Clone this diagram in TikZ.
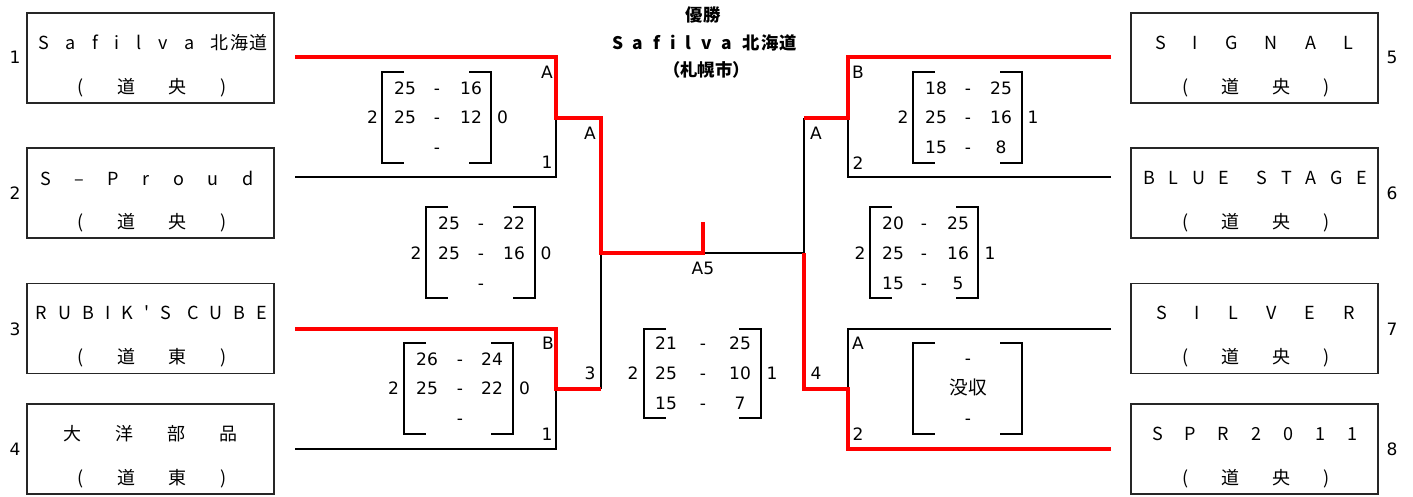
\documentclass[tikz,border=0pt]{standalone}
\usepackage{fontspec}
\setmainfont{DejaVu Sans}
\newfontfamily\jp{Noto Sans CJK JP}
\usetikzlibrary{calc}
\newlength\px \setlength\px{0.75pt}
\newcommand\spread[2]{\makebox[#1\px][s]{#2}}
\newcommand\brackets[4]{%
  \draw[brk] (#1+22,#3) -- (#1,#3) -- (#1,#4) -- (#1+22,#4);
  \draw[brk] (#2-22,#3) -- (#2,#3) -- (#2,#4) -- (#2-22,#4);}
\newcommand\srow[6]{%
  \node[lbl] at (#1,#4) {#5};
  \node[lbl] at (#2,#4) {-};
  \node[lbl] at (#3,#4) {#6};}
\tikzset{
  teamb/.style={draw=black!85, line width=1.1pt, minimum width=185.25pt, minimum height=67.5pt, inner sep=0pt},
  teamt/.style={font=\jp\fontsize{13.5}{15}\selectfont, inner sep=0pt},
  lbl/.style={font=\fontsize{12.8}{15}\selectfont, inner sep=0pt, text height=9.3pt, text depth=0pt},
  ttl/.style={font=\jp\bfseries\fontsize{13}{15}\selectfont, inner sep=0pt},
  wline/.style={red, line width=2.6pt},
  lline/.style={black, line width=1.5pt},
  brk/.style={black, line width=1.5pt},
}
\begin{document}
\begin{tikzpicture}[x=0.75pt,y=-0.75pt]
\useasboundingbox (0,0) rectangle (1413,496);
% team boxes left
\node[teamb] (b1) at (150.5,58) {};
\node[teamb] (b2) at (150.5,193) {};
\node[teamb] (b3) at (150.5,328.5) {};
\node[teamb] (b4) at (150.5,449) {};
% team boxes right
\node[teamb] (b5) at (1254.5,58) {};
\node[teamb] (b6) at (1254.5,193) {};
\node[teamb] (b7) at (1254.5,328.5) {};
\node[teamb] (b8) at (1254.5,449) {};
% names
\node[teamt] (n1) at (153,43) {\spread{229}{S\hfill a\hfill f\hfill i\hfill l\hfill v\hfill a\hfill 北\hspace{1pt}海\hspace{1pt}道}};
\node[teamt] (n2) at (147,178) {\spread{213}{S\hfill –\hfill P\hfill r\hfill o\hfill u\hfill d}};
\node[teamt] (n3) at (151.5,313) {\spread{231}{R\hfill U\hfill B\hfill I\hfill K\hfill \symbol{39}\hfill S\hfill\hspace{4pt}C\hfill U\hfill B\hfill E}};
\node[teamt] (n4) at (150.5,434) {\spread{175}{大\hfill 洋\hfill 部\hfill 品}};
\node[teamt] (n5) at (1254,43) {\spread{198}{S\hfill I\hfill G\hfill N\hfill A\hfill L}};
\node[teamt] (n6) at (1255,178) {\spread{224}{B\hfill L\hfill U\hfill E\hfill\hfill S\hfill T\hfill A\hfill G\hfill E}};
\node[teamt] (n7) at (1255.5,313) {\spread{199}{S\hfill I\hfill L\hfill V\hfill E\hfill R}};
\node[teamt] (n8) at (1254.5,434) {\spread{205}{S\hfill P\hfill R\hfill 2\hfill 0\hfill 1\hfill 1}};
% areas
\node[teamt] (r1) at (152,88) {\spread{150}{(\hfill 道\hfill 央\hfill )}};
\node[teamt] (r2) at (152,223) {\spread{150}{(\hfill 道\hfill 央\hfill )}};
\node[teamt] (r3) at (152,358) {\spread{150}{(\hfill 道\hfill 東\hfill )}};
\node[teamt] (r4) at (152,479) {\spread{150}{(\hfill 道\hfill 東\hfill )}};
\node[teamt] (r5) at (1256,88) {\spread{148}{(\hfill 道\hfill 央\hfill )}};
\node[teamt] (r6) at (1256,223) {\spread{148}{(\hfill 道\hfill 央\hfill )}};
\node[teamt] (r7) at (1256,358) {\spread{148}{(\hfill 道\hfill 央\hfill )}};
\node[teamt] (r8) at (1256,479) {\spread{148}{(\hfill 道\hfill 央\hfill )}};
% seed numbers
\node[lbl] (k1) at (15,57) {1};
\node[lbl] (k2) at (15,193) {2};
\node[lbl] (k3) at (15,329) {3};
\node[lbl] (k4) at (15,449) {4};
\node[lbl] (k5) at (1392,57) {5};
\node[lbl] (k6) at (1392,193) {6};
\node[lbl] (k7) at (1392,329) {7};
\node[lbl] (k8) at (1392,449) {8};
% title
\node[ttl] (tt1) at (703,15) {優勝};
\node[ttl] (tt2) at (704.5,43) {\spread{185}{S\hfill a\hfill f\hfill i\hfill l\hfill v\hfill a\hfill 北\hspace{1pt}海\hspace{1pt}道}};
\node[ttl] (tt3) at (703,70) {\spread{80}{（札幌市）}};
% coordinates
\coordinate (t1) at (295,57);
\coordinate (t2) at (295,177);
\coordinate (t3) at (295,329);
\coordinate (t4) at (295,449);
\coordinate (t5) at (1111,57);
\coordinate (t6) at (1111,177);
\coordinate (t7) at (1111,329);
\coordinate (t8) at (1111,449);
\coordinate (m12) at (556,118);
\coordinate (m34) at (556,389);
\coordinate (m56) at (848,118);
\coordinate (m78) at (848,389);
\coordinate (s12) at (601,118);
\coordinate (s34) at (601,389);
\coordinate (s56) at (804,118);
\coordinate (s78) at (804,389);
\coordinate (sL) at (601,253);
\coordinate (sR) at (804,253);
\coordinate (f) at (703,253);
\coordinate (champ) at (703,222);
% losing lines
\draw[lline] (t2) -| (m12);
\draw[lline] (t4) -| (m34);
\draw[lline] (s34) -- (sL);
\draw[lline] (f) -- (sR) -- (s56);
\draw[lline] (t6) -| (m56);
\draw[lline] (t7) -| (m78);
% winning lines
\draw[wline] (t1) -| (m12) -- (s12) |- (f) -- (champ);
\draw[wline] (t3) -| (m34) -- (s34);
\draw[wline] (t5) -| (m56) -- (s56);
\draw[wline] (t8) -| (m78) -- (s78) -- (sR);
% match labels
\node[lbl] (la1) at (547,72) {A};
\node[lbl] (la2) at (547,162) {1};
\node[lbl] (la3) at (590,133) {A};
\node[lbl] (la4) at (548,343) {B};
\node[lbl] (la5) at (547,434) {1};
\node[lbl] (la6) at (590,373) {3};
\node[lbl] (la7) at (703,268) {A5};
\node[lbl] (lb1) at (858,72) {B};
\node[lbl] (lb2) at (858,163) {2};
\node[lbl] (lb3) at (816,133) {A};
\node[lbl] (lb4) at (858,343) {A};
\node[lbl] (lb5) at (858,434) {2};
\node[lbl] (lb6) at (816,373) {4};
% score block 1-2
\brackets{382}{491}{72}{163}
\node[lbl] at (372.5,117) {2};
\node[lbl] at (502.5,117) {0};
\srow{405}{437}{471}{88}{25}{16}
\srow{405}{437}{471}{117}{25}{12}
\srow{405}{437}{471}{147}{}{}
% score block 1-3
\brackets{426}{535}{207}{298}
\node[lbl] at (416,253) {2};
\node[lbl] at (546,253) {0};
\srow{449}{481}{514}{223}{25}{22}
\srow{449}{481}{514}{253}{25}{16}
\srow{449}{481}{514}{283}{}{}
% score block 3-4
\brackets{404}{513}{343}{434}
\node[lbl] at (393.5,388) {2};
\node[lbl] at (524.5,388) {0};
\srow{427}{460}{492}{359}{26}{24}
\srow{427}{460}{492}{388}{25}{22}
\srow{427}{460}{492}{418}{}{}
% final
\brackets{644}{761}{329}{418}
\node[lbl] at (633,373) {2};
\node[lbl] at (772,373) {1};
\srow{666}{703}{740}{343}{21}{25}
\srow{666}{703}{740}{373}{25}{10}
\srow{666}{703}{740}{403}{15}{7}
% score block 5-6
\brackets{913}{1022}{72}{163}
\node[lbl] at (903,117) {2};
\node[lbl] at (1033,117) {1};
\srow{936}{968}{1001}{88}{18}{25}
\srow{936}{968}{1001}{117}{25}{16}
\srow{936}{968}{1001}{147}{15}{8}
% score block 5-8
\brackets{870}{978}{207}{298}
\node[lbl] at (860,253) {2};
\node[lbl] at (990,253) {1};
\srow{893}{924}{958}{223}{20}{25}
\srow{893}{924}{958}{253}{25}{16}
\srow{893}{924}{958}{283}{15}{5}
% score block 7-8
\brackets{913}{1022}{343}{434}
\node[lbl] at (968,358) {-};
\node[teamt, font=\jp\fontsize{14}{16}\selectfont] (forf) at (968,387) {没収};
\node[lbl] at (968,418) {-};
\end{tikzpicture}
\end{document}
